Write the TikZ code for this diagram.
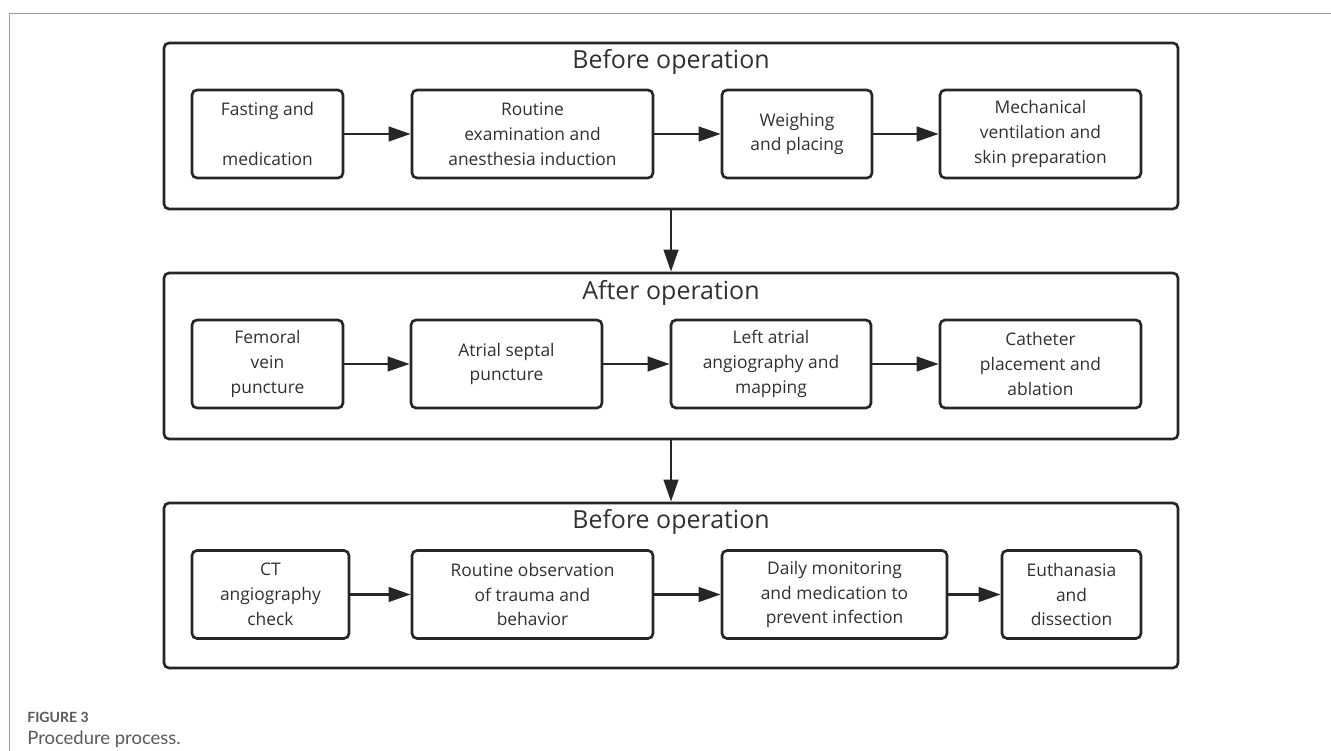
\documentclass[tikz,border=0pt]{standalone}
\usepackage{fontspec}
\setmainfont{Open Sans}
\newfontfamily\capfont{Lato}
\usepackage{tikz}
\usetikzlibrary{arrows.meta}
\usepackage{xcolor}
\definecolor{ink}{HTML}{262626}
\definecolor{txt}{HTML}{303030}
\definecolor{capgray}{HTML}{595959}

\tikzset{
  phase/.style={draw=ink,line width=1.5pt,rounded corners=1mm,minimum height=3.32cm,minimum width=20.28cm,inner sep=0pt},
  stepbox/.style={draw=ink,line width=1.5pt,rounded corners=1mm,minimum height=1.76cm,inner sep=0pt,align=center,text=txt,font=\fontsize{9.9}{14.2}\selectfont},
  phasetitle/.style={text=txt,inner sep=0pt,font=\fontsize{14.2}{16}\selectfont},
  flow/.style={-{Triangle[length=4.4mm,width=2.9mm]},line width=1.5pt,draw=ink,fill=ink}
}

\begin{document}
\begin{tikzpicture}[line cap=round]
\useasboundingbox (0,0) rectangle (26.62,15.02);
\draw[gray!75,line width=0.5pt] (0.18,0) -- (0.18,14.76) -- (26.62,14.76);
% phases
\node[phase] (pre) at (13.42,12.50) {};
\node[phase] (op) at (13.42,7.90) {};
\node[phase,minimum height=3.30cm] (post) at (13.42,3.31) {};
\node[phasetitle] (preT) at (13.42,13.78) {Before operation};
\node[phasetitle] (opT) at (13.42,9.16) {After operation};
\node[phasetitle] (postT) at (13.42,4.58) {Before operation};
% row 1
\node[stepbox,minimum width=3.02cm] (fast) at (5.35,12.34) {Fasting and\\[14.2pt]medication};
\node[stepbox,minimum width=4.82cm] (exam) at (10.65,12.34) {Routine\\examination and\\anesthesia induction};
\node[stepbox,minimum width=3.00cm] (weigh) at (15.94,12.34) {Weighing\\and placing};
\node[stepbox,minimum width=4.02cm] (vent) at (20.81,12.34) {Mechanical\\ventilation and\\skin preparation};
% row 2
\node[stepbox,minimum width=3.02cm] (fem) at (5.35,7.74) {Femoral\\vein\\puncture};
\node[stepbox,minimum width=3.82cm] (sept) at (10.13,7.74) {Atrial septal\\puncture};
\node[stepbox,minimum width=4.00cm] (map) at (15.42,7.74) {Left atrial\\angiography and\\mapping};
\node[stepbox,minimum width=4.02cm] (cath) at (20.81,7.74) {Catheter\\placement and\\ablation};
% row 3
\node[stepbox,minimum width=3.14cm] (ct) at (5.41,3.13) {CT\\angiography\\check};
\node[stepbox,minimum width=4.82cm] (obs) at (10.65,3.13) {Routine observation\\of trauma and\\behavior};
\node[stepbox,minimum width=4.50cm] (daily) at (16.69,3.13) {Daily monitoring\\and medication to\\prevent infection};
\node[stepbox,minimum width=2.78cm] (euth) at (21.43,3.13) {Euthanasia\\and\\dissection};
% arrows
\draw[flow] (fast) -- (exam);
\draw[flow] (exam) -- (weigh);
\draw[flow] (weigh) -- (vent);
\draw[flow] (fem) -- (sept);
\draw[flow] (sept) -- (map);
\draw[flow] (map) -- (cath);
\draw[flow] (ct) -- (obs);
\draw[flow] (obs) -- (daily);
\draw[flow] (daily) -- (euth);
\draw[flow] (pre.south) -- (op.north);
\draw[flow] (op.south) -- (post.north);
% caption
\node[anchor=west,inner sep=0pt,text=capgray,font=\capfont\bfseries\fontsize{8}{9}\selectfont] (figno) at (0.54,0.68) {FIGURE 3};
\node[anchor=west,inner sep=0pt,text=capgray,font=\capfont\fontsize{10.5}{12}\selectfont] (figcap) at (0.54,0.24) {Procedure process.};
\end{tikzpicture}
\end{document}
